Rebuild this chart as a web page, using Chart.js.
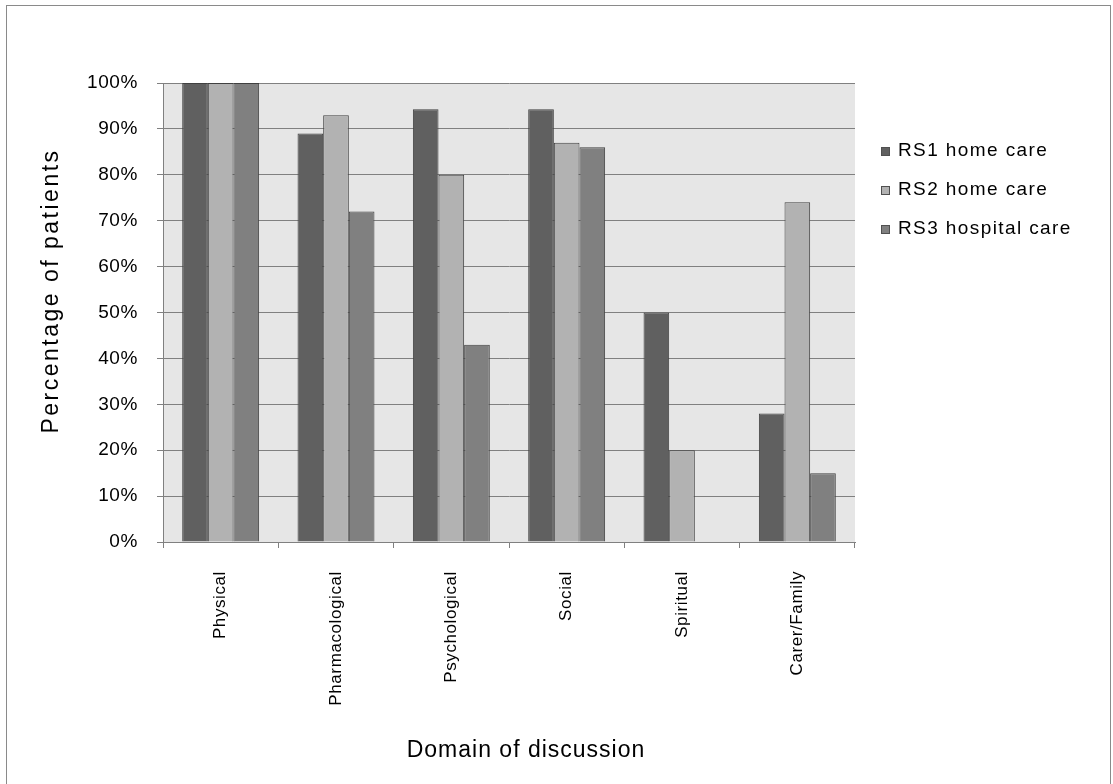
<!DOCTYPE html>
<html>
<head>
<meta charset="utf-8">
<title>Domain of discussion</title>
<script src="https://cdn.jsdelivr.net/npm/chart.js@4/dist/chart.umd.min.js"></script>
<style>
  html, body { margin: 0; padding: 0; background: #ffffff; }
  #wrap { width: 1113px; height: 784px; position: relative; }
</style>
</head>
<body>
<div id="wrap"><canvas id="c" width="1113" height="784"></canvas></div>
<script>
// Domains discussed, and share of patients per care setting (%)
const categories = ['Physical', 'Pharmacological', 'Psychological', 'Social', 'Spiritual', 'Carer/Family'];
const rs1Home = [100, 89, 94.3, 94.3, 50, 28];
const rs2Home = [100, 93, 80, 87, 20, 74];
const rs3Hospital = [100, 72, 43, 86, 0, 15];
const seriesNames = ['RS1 home care', 'RS2 home care', 'RS3 hospital care'];
const yTicks = [0, 10, 20, 30, 40, 50, 60, 70, 80, 90, 100];
const xTitle = 'Domain of discussion';
const yTitle = 'Percentage of patients';

const FONT = '"Liberation Sans", Arial, sans-serif';
const colors = ['#606060', '#b2b2b2', '#808080'];
const edge = '#404040';
const gridColor = '#808080';

// Grey plot background, outer frame, custom legend and axis titles
const decor = {
  id: 'decor',
  beforeDraw(chart) {
    const { ctx, chartArea: a } = chart;
    ctx.save();
    ctx.fillStyle = '#ffffff';
    ctx.fillRect(0, 0, chart.width, chart.height);
    ctx.fillStyle = '#e6e6e6';
    ctx.fillRect(a.left, a.top, a.right - a.left, a.bottom - a.top);
    ctx.strokeStyle = '#8a8a8a';
    ctx.lineWidth = 1;
    ctx.strokeRect(6.5, 5.5, 1104, 820);
    ctx.restore();
    // slightly spaced lettering for the axis tick labels
    ctx.letterSpacing = '0.6px';
  },
  afterDraw(chart) {
    const { ctx } = chart;
    ctx.save();
    // legend
    const rows = [151, 190, 229];
    ctx.font = '19px ' + FONT;
    ctx.letterSpacing = '1.4px';
    ctx.textBaseline = 'middle';
    ctx.textAlign = 'left';
    chart.data.datasets.forEach((ds, i) => {
      const y = rows[i];
      ctx.fillStyle = ds.backgroundColor;
      ctx.fillRect(881, y - 4, 9, 9);
      ctx.strokeStyle = '#505050';
      ctx.lineWidth = 1;
      ctx.strokeRect(881.5, y - 3.5, 8, 8);
      ctx.fillStyle = '#000000';
      ctx.fillText(ds.label, 898, y);
    });
    // axis titles
    ctx.font = '23px ' + FONT;
    ctx.letterSpacing = '1px';
    ctx.textAlign = 'center';
    ctx.fillText(xTitle, 526, 751);
    ctx.letterSpacing = '2.5px';
    ctx.translate(52, 291);
    ctx.rotate(-Math.PI / 2);
    ctx.fillText(yTitle, 0, 0);
    ctx.restore();
  }
};

const ctx = document.getElementById('c').getContext('2d');
new Chart(ctx, {
  type: 'bar',
  data: {
    labels: categories,
    datasets: [
      { label: seriesNames[0], data: rs1Home, backgroundColor: colors[0] },
      { label: seriesNames[1], data: rs2Home, backgroundColor: colors[1] },
      { label: seriesNames[2], data: rs3Hospital, backgroundColor: colors[2] }
    ].map(d => Object.assign(d, { borderColor: edge, borderWidth: 1 }))
  },
  options: {
    responsive: false,
    devicePixelRatio: 1,
    animation: false,
    layout: { padding: { top: 83, right: 258, left: 0, bottom: 0 } },
    categoryPercentage: 0.667,
    barPercentage: 1.0,
    plugins: {
      legend: { display: false },
      tooltip: { enabled: false },
      title: { display: false }
    },
    scales: {
      x: {
        grid: { display: true, drawOnChartArea: false, drawTicks: true, tickLength: 6, color: gridColor, offset: true },
        border: { display: true, color: gridColor, width: 1 },
        ticks: {
          minRotation: 90, maxRotation: 90, autoSkip: false, padding: 23,
          color: '#000000', font: { family: FONT, size: 17 }
        },
        afterFit(scale) { scale.height = 242; }
      },
      y: {
        min: 0, max: 100,
        afterBuildTicks(scale) { scale.ticks = yTicks.map(v => ({ value: v })); },
        grid: { color: gridColor, lineWidth: 1, drawTicks: true, tickLength: 6 },
        border: { display: true, color: gridColor, width: 1 },
        ticks: {
          padding: 19, color: '#000000', font: { family: FONT, size: 19 },
          callback: v => v + '%'
        },
        afterFit(scale) { scale.width = 163; }
      }
    }
  },
  plugins: [decor]
});
</script>
</body>
</html>
